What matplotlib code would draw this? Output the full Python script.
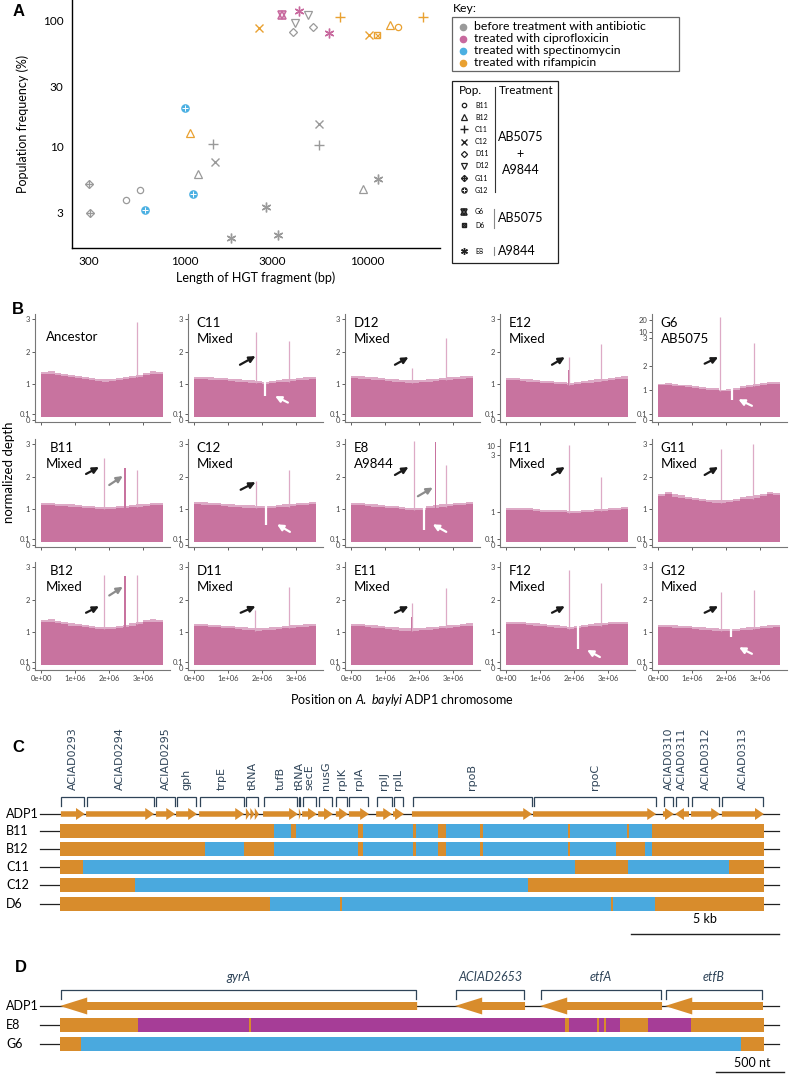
import numpy as np
import matplotlib
matplotlib.use('Agg')
import matplotlib.pyplot as plt
from matplotlib.patches import FancyArrow, Rectangle

plt.rcParams['font.family'] = ['Lato', 'DejaVu Sans']
plt.rcParams['mathtext.fontset'] = 'custom'
plt.rcParams['mathtext.rm'] = 'Lato'
plt.rcParams['mathtext.it'] = 'Lato:italic'

# ---------------- panel A data ----------------
a_pop = ['G11', 'G11', 'B11', 'B11', 'B12', 'B12', 'C11', 'C11', 'C12', 'C12',
         'E8', 'E8', 'E8', 'E8', 'D12', 'D12', 'D11', 'D11',
         'G6', 'E8', 'E8',
         'G12', 'G12', 'G12',
         'C12', 'C12', 'D6', 'C11', 'C11', 'B12', 'B12', 'B11']
a_group = ['before'] * 18 + ['cipro'] * 3 + ['spec'] * 3 + ['rif'] * 8
a_length = [302, 304, 479, 571, 1187, 9390, 1427, 5450, 1476, 5450,
            1797, 2777, 3243, 11340, 3997, 4746, 3932, 5053,
            3396, 4222, 6152,
            1004, 1110, 610,
            2544, 10210, 11200, 7063, 20120, 13240, 1078, 14580]
a_freq = [5.07, 2.98, 3.79, 4.49, 6.09, 4.63, 10.5, 10.3, 7.48, 15.1,
          1.90, 3.32, 2.0, 5.52, 95.2, 108.8, 80.9, 87.5,
          109, 117.8, 79.4,
          20.2, 4.23, 3.12,
          85.9, 76.6, 76.6, 105, 106, 91.4, 12.7, 88.5]
key_labels = ['before treatment with antibiotic', 'treated with ciprofloxicin',
              'treated with spectinomycin', 'treated with rifampicin']
key_groups = ['before', 'cipro', 'spec', 'rif']
pop_main = ['B11', 'B12', 'C11', 'C12', 'D11', 'D12', 'G11', 'G12']

# ---------------- panel B data (positions in Mb) ----------------
b_names = ['Ancestor', 'C11', 'D12', 'E12', 'G6',
           'B11', 'C12', 'E8', 'F11', 'G11',
           'B12', 'D11', 'E11', 'F12', 'G12']
b_sub = ['', 'Mixed', 'Mixed', 'Mixed', 'AB5075',
         'Mixed', 'Mixed', 'A9844', 'Mixed', 'Mixed',
         'Mixed', 'Mixed', 'Mixed', 'Mixed', 'Mixed']
b_levels = [
    [1.30, 1.32, 1.28, 1.25, 1.22, 1.18, 1.15, 1.12, 1.10, 1.08, 1.10, 1.12, 1.15, 1.18, 1.22, 1.28, 1.32, 1.30],
    [1.15, 1.15, 1.14, 1.13, 1.12, 1.10, 1.08, 1.06, 1.05, 1.02, 1.00, 1.03, 1.06, 1.08, 1.10, 1.12, 1.14, 1.15],
    [1.18, 1.17, 1.16, 1.14, 1.12, 1.10, 1.08, 1.06, 1.05, 1.05, 1.06, 1.08, 1.10, 1.12, 1.14, 1.15, 1.17, 1.18],
    [1.12, 1.12, 1.10, 1.08, 1.06, 1.04, 1.02, 1.00, 1.00, 0.98, 1.00, 1.02, 1.05, 1.08, 1.10, 1.12, 1.15, 1.17],
    [1.20, 1.22, 1.18, 1.15, 1.12, 1.08, 1.05, 1.02, 1.00, 0.95, 0.98, 1.02, 1.08, 1.12, 1.18, 1.22, 1.25, 1.25],
    [1.12, 1.12, 1.10, 1.10, 1.08, 1.06, 1.04, 1.02, 1.00, 1.00, 1.00, 1.02, 1.04, 1.06, 1.08, 1.10, 1.12, 1.12],
    [1.15, 1.14, 1.13, 1.12, 1.10, 1.08, 1.07, 1.05, 1.05, 1.02, 1.02, 1.04, 1.06, 1.08, 1.10, 1.12, 1.13, 1.15],
    [1.12, 1.12, 1.10, 1.08, 1.06, 1.04, 1.02, 1.00, 0.98, 0.96, 0.98, 1.02, 1.05, 1.08, 1.10, 1.12, 1.13, 1.15],
    [1.10, 1.10, 1.08, 1.07, 1.05, 1.03, 1.01, 1.00, 1.00, 0.98, 0.98, 1.00, 1.02, 1.04, 1.06, 1.08, 1.10, 1.12],
    [1.40, 1.45, 1.38, 1.35, 1.30, 1.28, 1.25, 1.22, 1.20, 1.20, 1.22, 1.25, 1.30, 1.32, 1.35, 1.40, 1.45, 1.42],
    [1.30, 1.32, 1.28, 1.25, 1.20, 1.18, 1.15, 1.12, 1.10, 1.10, 1.10, 1.12, 1.15, 1.20, 1.25, 1.30, 1.32, 1.30],
    [1.18, 1.18, 1.16, 1.15, 1.13, 1.12, 1.10, 1.08, 1.06, 1.05, 1.06, 1.08, 1.10, 1.12, 1.14, 1.15, 1.17, 1.18],
    [1.18, 1.18, 1.16, 1.14, 1.12, 1.10, 1.08, 1.05, 1.05, 1.05, 1.06, 1.08, 1.10, 1.12, 1.14, 1.16, 1.18, 1.20],
    [1.25, 1.25, 1.24, 1.22, 1.20, 1.18, 1.16, 1.14, 1.12, 1.10, 1.12, 1.15, 1.18, 1.20, 1.22, 1.25, 1.25, 1.25],
    [1.15, 1.15, 1.14, 1.13, 1.12, 1.10, 1.08, 1.06, 1.05, 1.02, 1.02, 1.04, 1.06, 1.08, 1.10, 1.12, 1.14, 1.15],
]
b_bin_edges = [0.0, 0.2, 0.4, 0.6, 0.8, 1.0, 1.2, 1.4, 1.6, 1.8, 2.0, 2.2, 2.4, 2.6, 2.8, 3.0, 3.2, 3.4, 3.6]
b_spikes = [
    [(2.83, 2.9)],
    [(1.83, 2.61), (2.80, 2.31)],
    [(1.79, 1.48), (2.80, 2.41)],
    [(1.84, 1.83), (2.81, 2.22)],
    [(1.82, 22.0), (2.82, 2.8)],
    [(1.85, 2.58), (2.83, 2.2)],
    [(1.83, 1.85), (2.80, 2.2)],
    [(1.85, 3.1), (2.79, 2.36)],
    [(1.84, 11.0), (2.80, 2.25)],
    [(1.86, 2.85), (2.80, 3.0)],
    [(1.86, 2.76), (2.83, 2.75)],
    [(1.80, 1.68), (2.80, 2.39)],
    [(1.80, 1.9), (2.80, 2.36)],
    [(1.84, 2.9), (2.80, 2.5)],
    [(1.84, 2.24), (2.82, 2.3)],
]
b_blocks = [[], [], [], [(1.82, 1.87, 1.42)], [],
            [(2.43, 2.50, 2.27)], [], [(2.46, 2.50, 3.05)], [], [],
            [(2.43, 2.51, 2.73)], [], [(1.77, 1.83, 1.45)], [], []]
b_dips = [[], [(2.10, 0.65)], [], [], [(2.18, 0.60)],
          [], [(2.12, 0.52)], [(2.14, 0.35)], [], [],
          [], [], [], [(2.12, 0.49)], [(2.15, 0.85)]]

# ---------------- panel C data (kb) ----------------
c_genes = ['ACIAD0293', 'ACIAD0294', 'ACIAD0295', 'gph', 'trpE', 'tRNA', 'tufB', 'tRNA',
           'secE', 'nusG', 'rplK', 'rplA', 'rplJ', 'rplL', 'rpoB', 'rpoC',
           'ACIAD0310', 'ACIAD0311', 'ACIAD0312', 'ACIAD0313']
c_start = [0.03, 0.88, 3.24, 3.92, 4.70, 6.28, 6.86, 8.07, 8.18, 8.72, 9.32, 9.76,
           10.68, 11.25, 11.89, 15.98, 20.37, 20.78, 21.32, 22.36]
c_end = [0.84, 3.18, 3.89, 4.63, 6.22, 6.72, 8.04, 8.14, 8.68, 9.22, 9.73, 10.44,
         11.22, 11.62, 15.95, 20.14, 20.74, 21.25, 22.30, 23.78]
c_strand = [1] * 17 + [-1] + [1, 1]
c_trna_units = [(6.28, 6.42), (6.43, 6.57), (6.58, 6.72)]
c_total = 23.78
c_rows = ['B11', 'B12', 'C11', 'C12', 'D6']
c_blue = [
    [(7.23, 7.80), (7.97, 10.07), (10.24, 11.93), (12.03, 12.77), (13.04, 14.19),
     (14.29, 17.16), (17.23, 19.15), (19.23, 20.0)],
    [(4.90, 6.22), (7.23, 10.07), (10.24, 11.93), (12.03, 12.77), (13.04, 14.19),
     (14.29, 17.16), (17.23, 18.78), (19.76, 20.0)],
    [(0.78, 17.40), (19.19, 22.60)],
    [(2.53, 15.80)],
    [(7.09, 9.45), (9.53, 18.62), (18.68, 20.10)],
]

# ---------------- panel D data (nt) ----------------
d_genes = ['gyrA', 'ACIAD2653', 'etfA', 'etfB']
d_start = [0, 2903, 3528, 4447]
d_end = [2625, 3418, 4425, 5167]
d_total = 5175
d_rows = ['E8', 'G6']
d_colors = ['#a63d97', '#4aa9de']
d_segments = [
    [(573, 1390), (1405, 3712), (3741, 3947), (3962, 3995), (4013, 4116), (4322, 4638)],
    [(154, 5005)],
]

# ---------------- styles ----------------
W, H = 789, 1076
grp_col = {'before': '#9a9a9a', 'cipro': '#c8699e', 'spec': '#4cb0e2', 'rif': '#e9a131'}
pink = '#c8739f'
pink_light = '#ddaac6'
orange = '#d88c2c'
blue = '#4aa9de'
navy = '#2f4458'


def box(l, t, w, h):
    return [l / W, 1 - (t + h) / H, w / W, h / H]


def draw_marker(ax, x, y, p, c, s=1.0):
    kw = dict(linestyle='none', zorder=3, clip_on=False)
    if p == 'B11':
        ax.plot(x, y, 'o', mfc='none', mec=c, ms=4.5 * s, mew=0.9, **kw)
    elif p == 'B12':
        ax.plot(x, y, '^', mfc='none', mec=c, ms=5.3 * s, mew=0.9, **kw)
    elif p == 'C11':
        ax.plot(x, y, '+', color=c, ms=7.5 * s, mew=1.0, **kw)
    elif p == 'C12':
        ax.plot(x, y, 'x', color=c, ms=5.3 * s, mew=1.0, **kw)
    elif p == 'D11':
        ax.plot(x, y, 'D', mfc='none', mec=c, ms=4.5 * s, mew=0.9, **kw)
    elif p == 'D12':
        ax.plot(x, y, 'v', mfc='none', mec=c, ms=5.3 * s, mew=0.9, **kw)
    elif p == 'G11':
        ax.plot(x, y, 'D', mfc='none', mec=c, ms=4.5 * s, mew=0.9, **kw)
        ax.plot(x, y, '+', color=c, ms=5.8 * s, mew=0.9, **kw)
    elif p == 'G12':
        ax.plot(x, y, 'o', color=c, ms=5.2 * s, **kw)
        ax.plot(x, y, '+', color='white', ms=4.6 * s, mew=0.7, **kw)
    elif p == 'G6':
        ax.plot(x, y, '^', mfc='none', mec=c, ms=5.2 * s, mew=1.2, **kw)
        ax.plot(x, y, 'v', mfc='none', mec=c, ms=5.2 * s, mew=1.2, **kw)
    elif p == 'D6':
        ax.plot(x, y, 's', mfc='none', mec=c, ms=4.6 * s, mew=1.0, **kw)
        ax.plot(x, y, 'x', color=c, ms=3.6 * s, mew=0.9, **kw)
    elif p == 'E8':
        ax.plot(x, y, marker=(6, 2, 0), color=c, ms=7 * s, mew=1.0, **kw)


fig = plt.figure(figsize=(W / 100, H / 100), dpi=100)
over = fig.add_axes([0, 0, 1, 1])
over.set_xlim(0, W)
over.set_ylim(H, 0)
over.axis('off')

# ---------------- panel A ----------------
axA = fig.add_axes(box(72, 0, 368, 248))
axA.set_xscale('log')
axA.set_yscale('log')
axA.set_xlim(244, 24800)
axA.set_ylim(1.574, 144)
for x, y, p, g in zip(a_length, a_freq, a_pop, a_group):
    draw_marker(axA, x, y, p, grp_col[g])
axA.set_xticks([300, 1000, 3000, 10000])
axA.set_xticklabels(['300', '1000', '3000', '10000'])
axA.set_yticks([3, 10, 30, 100])
axA.set_yticklabels(['3', '10', '30', '100'])
axA.minorticks_off()
axA.tick_params(length=0, labelsize=8.5, pad=6)
for sp in ['top', 'right']:
    axA.spines[sp].set_visible(False)
for sp in ['left', 'bottom']:
    axA.spines[sp].set_linewidth(1.0)
axA.set_xlabel('Length of HGT fragment (bp)', fontsize=9, labelpad=3)
axA.set_ylabel('Population frequency (%)', fontsize=9, labelpad=10)
over.text(13, 12, 'A', fontsize=12, fontweight='bold', va='center', ha='left',
          family=['Liberation Sans', 'DejaVu Sans'])

# key box
over.text(453, 8, 'Key:', fontsize=8.8, va='center')
over.add_patch(Rectangle((452, 17), 227, 54, fill=False, ec='#666666', lw=0.9))
for i, (lab, g) in enumerate(zip(key_labels, key_groups)):
    yy = 27 + 12 * i
    over.plot(463, yy, 'o', color=grp_col[g], ms=4.5)
    over.text(474, yy, lab, fontsize=8.8, va='center')

# population box
over.add_patch(Rectangle((452, 81), 106, 182, fill=False, ec='#222222', lw=0.9))
over.text(459, 91, 'Pop.', fontsize=8.5, va='center')
over.text(499, 91, 'Treatment', fontsize=8.5, va='center')
over.plot([495, 495], [87, 192], color='#333333', lw=0.8)
for i, p in enumerate(pop_main):
    yy = 105 + 12.2 * i
    draw_marker(over, 464, yy, p, '#222222', s=0.7)
    over.text(475, yy, p, fontsize=5, va='center')
for yy, p in zip([212, 225], ['G6', 'D6']):
    draw_marker(over, 464, yy, p, '#222222', s=0.7)
    over.text(475, yy, p, fontsize=5, va='center')
draw_marker(over, 464, 251, 'E8', '#222222', s=0.7)
over.text(475, 251, 'E8', fontsize=5, va='center')
over.text(521, 137, 'AB5075', fontsize=9, ha='center', va='center')
over.text(520, 154, '+', fontsize=9, ha='center', va='center')
over.text(521, 170, 'A9844', fontsize=9, ha='center', va='center')
over.plot([494, 494], [209, 228], color='#888888', lw=0.8)
over.text(521, 218, 'AB5075', fontsize=9, ha='center', va='center')
over.plot([494, 494], [247, 255], color='#888888', lw=0.8)
over.text(517, 251, 'A9844', fontsize=9, ha='center', va='center')

# ---------------- panel B ----------------
std_pts = [(-1, -2), (0, 0), (0.1, 0.2), (1, 1.1), (3, 3.1), (100, 100.1)]
scale_pts = {
    'G6': [(-1, -2), (0, 0), (0.1, 0.2), (1, 0.92), (2, 1.66), (3, 2.52), (10, 2.7), (20, 3.07), (100, 6.0)],
    'F11': [(-1, -2), (0, 0), (0.1, 0.2), (1, 1.0), (3, 2.75), (10, 3.05), (20, 3.3), (100, 5.3)],
}
ytick_sets = {
    'G6': [0, 0.1, 1, 2, 3, 10, 20],
    'F11': [0, 0.1, 1, 3, 10],
}
arrows = {
    'C11': [((0.385, 0.53), (0.50, 0.61), 'k'), ((0.74, 0.18), (0.645, 0.24), 'w')],
    'D12': [((0.37, 0.53), (0.47, 0.60), 'k')],
    'E12': [((0.385, 0.53), (0.48, 0.60), 'k')],
    'G6': [((0.39, 0.54), (0.49, 0.60), 'k'), ((0.74, 0.15), (0.64, 0.21), 'w')],
    'B11': [((0.378, 0.676), (0.474, 0.74), 'k'), ((0.55, 0.574), (0.65, 0.657), 'g')],
    'C12': [((0.39, 0.53), (0.50, 0.60), 'k'), ((0.755, 0.14), (0.66, 0.21), 'w')],
    'E8': [((0.37, 0.667), (0.47, 0.74), 'k'), ((0.54, 0.47), (0.65, 0.55), 'g'),
           ((0.75, 0.14), (0.65, 0.21), 'w')],
    'F11': [((0.385, 0.667), (0.48, 0.74), 'k')],
    'G11': [((0.39, 0.667), (0.49, 0.74), 'k')],
    'B12': [((0.378, 0.53), (0.474, 0.59), 'k'), ((0.55, 0.69), (0.65, 0.77), 'g')],
    'D11': [((0.39, 0.53), (0.50, 0.59), 'k')],
    'E11': [((0.37, 0.53), (0.47, 0.59), 'k')],
    'F12': [((0.385, 0.53), (0.48, 0.59), 'k'), ((0.74, 0.12), (0.645, 0.185), 'w')],
    'G12': [((0.39, 0.53), (0.49, 0.59), 'k'), ((0.74, 0.15), (0.645, 0.21), 'w')],
}
arrow_col = {'k': '#1a1a1a', 'w': 'white', 'g': '#8c8c8c'}
col_left = [35, 188, 345, 500, 652]
row_bottom = [422, 547, 670]
ax_h = 108

for i, name in enumerate(b_names):
    r, c = divmod(i, 5)
    ax = fig.add_axes(box(col_left[c], row_bottom[r] - ax_h, 135, ax_h))
    ax.patch.set_alpha(0)
    pts = scale_pts.get(name, std_pts)
    px = np.array([p[0] for p in pts], float)
    py = np.array([p[1] for p in pts], float)
    fwd = lambda v, px=px, py=py: np.interp(v, px, py)
    inv = lambda v, px=px, py=py: np.interp(v, py, px)
    ax.set_yscale('function', functions=(fwd, inv))
    ax.set_xlim(-0.18, 3.8)
    ax.set_ylim(float(inv(-0.06)), float(inv(3.25)))

    lev = np.array(b_levels[i])
    ax.stairs(lev, b_bin_edges, baseline=0.05, fill=True, color=pink, lw=0)
    ax.stairs(lev + 0.07, b_bin_edges, baseline=lev, fill=True, color=pink_light, lw=0)
    for pos, h in b_spikes[i]:
        base = lev[min(int(pos / 0.2), len(lev) - 1)]
        ax.vlines(pos, base, h, color=pink_light, lw=0.9)
    for x0, x1, h in b_blocks[i]:
        ax.bar((x0 + x1) / 2, h - 0.05, width=x1 - x0, bottom=0.05, color=pink, lw=0)
    for pos, d in b_dips[i]:
        top = lev[min(int(pos / 0.2), len(lev) - 1)] + 0.1
        ax.vlines(pos, d, top, color='white', lw=1.6)

    ticks = ytick_sets.get(name, [0, 0.1, 1, 2, 3])
    ax.set_yticks(ticks)
    ax.set_yticklabels([('%g' % t) for t in ticks])
    ax.yaxis.set_minor_locator(matplotlib.ticker.NullLocator())
    ax.set_xticks([0, 1, 2, 3])
    if r == 2:
        ax.set_xticklabels(['0e+00', '1e+06', '2e+06', '3e+06'])
    else:
        ax.set_xticklabels([])
    ax.tick_params(length=2, width=0.6, colors='#444444', labelsize=5.5, pad=1.5)
    for sp in ['top', 'right']:
        ax.spines[sp].set_visible(False)
    for sp in ['left', 'bottom']:
        ax.spines[sp].set_color('#777777')
        ax.spines[sp].set_linewidth(0.8)

    tx = 0.08 if c == 0 else 0.065
    if name == 'Ancestor':
        ax.text(tx, 0.79, name, transform=ax.transAxes, fontsize=9.5, va='center')
    else:
        ax.text(tx + (0.03 if c == 0 else 0), 0.917, name, transform=ax.transAxes,
                fontsize=9.5, va='center')
        ax.text(tx, 0.77, b_sub[i], transform=ax.transAxes, fontsize=9.5, va='center')
    for tail, head, k in arrows.get(name, []):
        ax.annotate('', xy=head, xytext=tail, xycoords='axes fraction',
                    textcoords='axes fraction',
                    arrowprops=dict(arrowstyle='-|>', color=arrow_col[k], lw=1.6,
                                    mutation_scale=9, shrinkA=0, shrinkB=0))

over.text(12, 310, 'B', fontsize=12, fontweight='bold', va='center',
          family=['Liberation Sans', 'DejaVu Sans'])
over.text(9, 472, 'normalized depth', fontsize=9.5, rotation=90, ha='center', va='center')
over.text(402, 700, r'Position on $\it{A.\ baylyi}$ ADP1 chromosome', fontsize=9,
          ha='center', va='center')

# ---------------- panel C ----------------
kbpx = 29.6
axC = fig.add_axes(box(0, 700, W, 245))
axC.set_xlim(-60 / kbpx, (W - 60) / kbpx)
axC.set_ylim(945, 700)
axC.axis('off')
c_row_y = [814, 831, 849, 867, 885, 904]
line_l, line_r = -20 / kbpx, (779 - 60) / kbpx
for yy in c_row_y:
    axC.plot([line_l, line_r], [yy, yy], color='#222222', lw=0.9, zorder=1)

for g, s0, e0, st in zip(c_genes, c_start, c_end, c_strand):
    # bracket + label
    axC.plot([s0 + 0.02, s0 + 0.02, e0 - 0.02, e0 - 0.02], [806, 797, 797, 806],
             color=navy, lw=0.9, solid_joinstyle='miter')
    axC.text((s0 + e0) / 2, 790, g, rotation=90, ha='center', va='bottom', fontsize=8,
             color=navy, family=['DejaVu Sans'])
    parts = c_trna_units if (g == 'tRNA' and e0 - s0 > 0.3) else [(s0, e0)]
    for a, b in parts:
        L = b - a
        hl = min(0.3, L)
        if st > 0:
            arr = FancyArrow(a, 814, L, 0, width=5.5, head_width=12, head_length=hl,
                             length_includes_head=True, color=orange, lw=0, zorder=3)
        else:
            arr = FancyArrow(b, 814, -L, 0, width=5.5, head_width=12, head_length=hl,
                             length_includes_head=True, color=orange, lw=0, zorder=3)
        axC.add_patch(arr)

for yy, segs in zip(c_row_y[1:], c_blue):
    axC.broken_barh([(0, c_total)], (yy - 7, 14), facecolors=orange, zorder=2)
    axC.broken_barh([(a, b - a) for a, b in segs], (yy - 7, 14), facecolors=blue, zorder=3)

axC.plot([19.3, 24.3], [934, 934], color='#222222', lw=1.0)
axC.text(21.8, 919, '5 kb', ha='center', va='center', fontsize=9)
over.text(12, 748, 'C', fontsize=12, fontweight='bold', va='center',
          family=['Liberation Sans', 'DejaVu Sans'])
for yy, lab in zip(c_row_y, ['ADP1'] + c_rows):
    over.text(6, yy, lab, fontsize=9, va='center')

# ---------------- panel D ----------------
ntpx = 7.35
axD = fig.add_axes(box(0, 950, W, 126))
axD.set_xlim(-60 * ntpx, (W - 60) * ntpx)
axD.set_ylim(1076, 950)
axD.axis('off')
d_row_y = [1006, 1025, 1044]
for yy in d_row_y:
    axD.plot([-20 * ntpx, 719 * ntpx], [yy, yy], color='#222222', lw=0.9, zorder=1)
for g, s0, e0 in zip(d_genes, d_start, d_end):
    axD.plot([s0 + 10, s0 + 10, e0 - 10, e0 - 10], [999, 990, 990, 999], color=navy, lw=0.9)
    axD.text((s0 + e0) / 2, 977, g, ha='center', va='center', fontsize=9, style='italic',
             color=navy)
    axD.add_patch(FancyArrow(e0, 1006, -(e0 - s0), 0, width=8, head_width=17,
                             head_length=200, length_includes_head=True, color=orange,
                             lw=0, zorder=3))
for yy, segs, cc in zip(d_row_y[1:], d_segments, d_colors):
    axD.broken_barh([(0, d_total)], (yy - 7, 14), facecolors=orange, zorder=2)
    axD.broken_barh([(a, b - a) for a, b in segs], (yy - 7, 14), facecolors=cc, zorder=3)
axD.plot([4822, 5322], [1072, 1072], color='#222222', lw=1.0)
axD.text(5090, 1063, '500 nt', ha='center', va='center', fontsize=9)
over.text(15, 968, 'D', fontsize=12, fontweight='bold', va='center',
          family=['Liberation Sans', 'DejaVu Sans'])
for yy, lab in zip(d_row_y, ['ADP1'] + d_rows):
    over.text(6, yy, lab, fontsize=9, va='center')

fig.savefig('out.png', dpi=100)
